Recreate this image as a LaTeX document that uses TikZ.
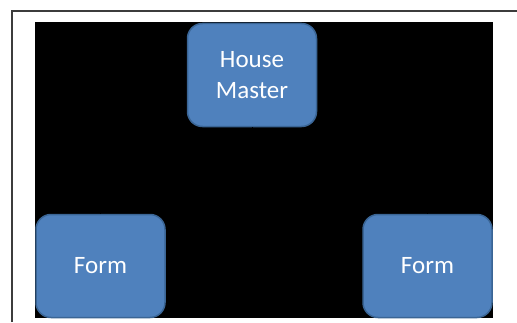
\documentclass[tikz,border=0pt]{standalone}
\usepackage{fontspec}
\setmainfont{Carlito}
\begin{document}
\begin{tikzpicture}[x=1pt,y=1pt,
  orgbox/.style={draw=boxline, line width=1.5pt, fill=boxfill, rounded corners=15pt,
    minimum width=129pt, minimum height=103pt, inner sep=0pt, align=center,
    text=white, font=\fontsize{25}{30.5}\selectfont},
  link/.style={draw=black, line width=1pt}]
\definecolor{boxfill}{HTML}{4F81BD}
\definecolor{boxline}{HTML}{3A6595}
\definecolor{framegray}{HTML}{3C3C3C}
\useasboundingbox (0,0) rectangle (517,322);
\fill[white] (0,0) rectangle (517,322);
% page frame
\draw[framegray, line width=2pt] (11.5,0) -- (11.5,310.5) -- (517,310.5);
% slide background
\fill[black] (35,4) rectangle (493,300);
% connectors (black on the black slide)
\coordinate (hmdrop) at (252,150);
\coordinate (lfside) at (170,56);
% hierarchy
\node[orgbox] (hm) at (252,247) {House\\Master};
\node[orgbox] (lf) at (100.5,56) {Form};
\node[orgbox] (rf) at (427.5,56) {Form};
\draw[link] (hm.south) -- (hmdrop) -| (lf.north);
\draw[link] (hmdrop) -| (rf.north);
\draw[link] (lf.east) -- (lfside);
\end{tikzpicture}
\end{document}
